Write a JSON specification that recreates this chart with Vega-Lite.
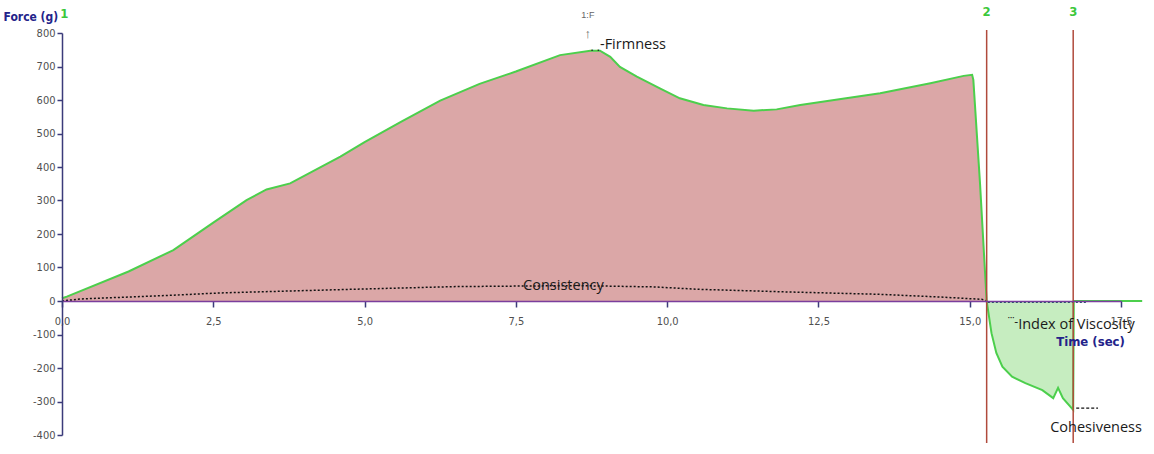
{
  "$schema": "https://vega.github.io/schema/vega-lite/v6.json",
  "width": 1059,
  "height": 402,
  "autosize": {"type": "none"},
  "padding": {"left": 62, "top": 33, "right": 33, "bottom": 19},
  "background": "white",
  "config": {"view": {"stroke": null}},
  "datasets": {
    "curve": [
      {"t": 0, "v": 8, "seg": "c"},
      {"t": 0.08, "v": 13, "seg": "c"},
      {"t": 1.1, "v": 88, "seg": "c"},
      {"t": 1.84, "v": 152, "seg": "c"},
      {"t": 2.5, "v": 234, "seg": "c"},
      {"t": 3.05, "v": 301, "seg": "c"},
      {"t": 3.38, "v": 333, "seg": "c"},
      {"t": 3.77, "v": 351, "seg": "c"},
      {"t": 4.6, "v": 431, "seg": "c"},
      {"t": 5.0, "v": 474, "seg": "c"},
      {"t": 5.6, "v": 535, "seg": "c"},
      {"t": 6.25, "v": 598, "seg": "c"},
      {"t": 6.9, "v": 648, "seg": "c"},
      {"t": 7.5, "v": 685, "seg": "c"},
      {"t": 8.23, "v": 734, "seg": "c"},
      {"t": 8.73, "v": 747, "seg": "c"},
      {"t": 8.89, "v": 747, "seg": "c"},
      {"t": 9.06, "v": 729, "seg": "c"},
      {"t": 9.22, "v": 699, "seg": "c"},
      {"t": 9.5, "v": 670, "seg": "c"},
      {"t": 9.88, "v": 635, "seg": "c"},
      {"t": 10.21, "v": 605, "seg": "c"},
      {"t": 10.6, "v": 585, "seg": "c"},
      {"t": 10.99, "v": 575, "seg": "c"},
      {"t": 11.43, "v": 568, "seg": "c"},
      {"t": 11.81, "v": 572, "seg": "c"},
      {"t": 12.2, "v": 585, "seg": "c"},
      {"t": 12.9, "v": 604, "seg": "c"},
      {"t": 13.52, "v": 620, "seg": "c"},
      {"t": 14.35, "v": 650, "seg": "c"},
      {"t": 14.9, "v": 672, "seg": "c"},
      {"t": 15.04, "v": 675, "seg": "c"},
      {"t": 15.06, "v": 660, "seg": "c"},
      {"t": 15.17, "v": 352, "seg": "c"},
      {"t": 15.28, "v": 0, "seg": "c"},
      {"t": 15.28, "v": 0, "seg": "t"},
      {"t": 15.36, "v": -96, "seg": "t"},
      {"t": 15.44, "v": -155, "seg": "t"},
      {"t": 15.54, "v": -196, "seg": "t"},
      {"t": 15.7, "v": -226, "seg": "t"},
      {"t": 15.92, "v": -245, "seg": "t"},
      {"t": 16.2, "v": -266, "seg": "t"},
      {"t": 16.38, "v": -290, "seg": "t"},
      {"t": 16.46, "v": -259, "seg": "t"},
      {"t": 16.54, "v": -290, "seg": "t"},
      {"t": 16.71, "v": -325, "seg": "t"},
      {"t": 16.72, "v": 0, "seg": "t"},
      {"t": 17.85, "v": 0, "seg": "t"}
    ],
    "cons": [
      {"t": 0, "v": 0},
      {"t": 0.3, "v": 6},
      {"t": 1.8, "v": 17},
      {"t": 2.6, "v": 24},
      {"t": 4.6, "v": 34},
      {"t": 6.5, "v": 43},
      {"t": 8.5, "v": 46},
      {"t": 9.8, "v": 42},
      {"t": 10.5, "v": 35},
      {"t": 12.0, "v": 27},
      {"t": 13.5, "v": 20},
      {"t": 14.5, "v": 12},
      {"t": 15.2, "v": 5},
      {"t": 15.28, "v": 0}
    ],
    "visc": [
      {"t": 15.3, "v": -4},
      {"t": 16.95, "v": -4}
    ],
    "coh": [
      {"t": 16.76, "v": -320},
      {"t": 17.12, "v": -320}
    ],
    "vlines": [
      {"t": 15.28, "v": 809, "v2": -424},
      {"t": 16.71, "v": 809, "v2": -424}
    ],
    "marks": [
      {"t": 0.04, "v": 858, "label": "1"},
      {"t": 15.28, "v": 862, "label": "2"},
      {"t": 16.71, "v": 862, "label": "3"}
    ],
    "notes": [
      {"t": 8.89, "v": 764, "label": "-Firmness"},
      {"t": 7.62, "v": 45, "label": "Consistency"},
      {"t": 15.8, "v": -72, "label": "Index of Viscosity"},
      {"t": 16.33, "v": -379, "label": "Cohesiveness"}
    ],
    "pre": [
      {"t": 8.89, "v": 757, "label": ". ."},
      {"t": 15.8, "v": -62, "label": "˙˙˙-"}
    ],
    "tiny": [
      {"t": 8.69, "v": 853, "label": "1:F", "size": 9},
      {"t": 8.69, "v": 798, "label": "↑", "size": 13}
    ]
  },
  "encoding": {
    "x": {
      "field": "t",
      "type": "quantitative",
      "scale": {"domain": [0, 17.5], "nice": false, "zero": false},
      "axis": {
        "title": "Time (sec)",
        "zindex": 1,
        "values": [0, 2.5, 5, 7.5, 10, 12.5, 15, 17.5],
        "labelExpr": "replace(format(datum.value, '.1f'), '.', ',')",
        "offset": -134,
        "grid": false,
        "domainColor": "#7a3e9d",
        "domainWidth": 1.5,
        "tickColor": "#3b3b7a",
        "tickWidth": 1.5,
        "tickSize": 6,
        "labelPadding": 8,
        "labelFlush": false,
        "labelOverlap": false,
        "labelFont": "'DejaVu Sans Condensed', 'Liberation Sans', sans-serif",
        "labelFontSize": 11,
        "labelColor": "#505050",
        "titleFont": "'DejaVu Sans Condensed', 'Liberation Sans', sans-serif",
        "titleFontWeight": "bold",
        "titleFontSize": 13,
        "titleColor": "#23238a",
        "titleX": 1028,
        "titleY": 40,
        "titleAlign": "center",
        "titleBaseline": "middle"
      }
    },
    "y": {
      "field": "v",
      "type": "quantitative",
      "scale": {"domain": [-400, 800], "nice": false},
      "axis": {
        "title": "Force (g)",
        "zindex": 1,
        "values": [-400, -300, -200, -100, 0, 100, 200, 300, 400, 500, 600, 700, 800],
        "labelExpr": "datum.value < 0 ? '-' + abs(datum.value) : '' + datum.value",
        "grid": false,
        "domainColor": "#3b3b7a",
        "domainWidth": 1.5,
        "tickColor": "#3b3b7a",
        "tickWidth": 1.5,
        "tickSize": 5,
        "labelPadding": 2,
        "labelFont": "'DejaVu Sans Condensed', 'Liberation Sans', sans-serif",
        "labelFontSize": 11,
        "labelColor": "#505050",
        "titleFont": "'DejaVu Sans Condensed', 'Liberation Sans', sans-serif",
        "titleFontWeight": "bold",
        "titleFontSize": 12,
        "titleColor": "#23238a",
        "titleAngle": 0,
        "titleAlign": "left",
        "titleBaseline": "alphabetic",
        "titleX": -59,
        "titleY": -13
      }
    }
  },
  "layer": [
    {
      "data": {"name": "curve"},
      "mark": {"type": "area", "opacity": 1},
      "encoding": {
        "y": {"field": "v", "type": "quantitative", "stack": null},
        "color": {
          "field": "seg",
          "type": "nominal",
          "scale": {"domain": ["c", "t"], "range": ["#dba7a7", "#c6edc0"]},
          "legend": null
        }
      }
    },
    {
      "data": {"name": "cons"},
      "mark": {"type": "line", "color": "#111111", "strokeWidth": 1.5, "strokeDash": [2, 2]}
    },
    {
      "data": {"name": "visc"},
      "mark": {"type": "line", "color": "#1d4f66", "strokeWidth": 1.4, "strokeDash": [2, 2]}
    },
    {
      "data": {"name": "curve"},
      "mark": {"type": "line", "color": "#4ccf4c", "strokeWidth": 2}
    },
    {
      "data": {"name": "coh"},
      "mark": {"type": "line", "color": "#111111", "strokeWidth": 1.3, "strokeDash": [3, 2]}
    },
    {
      "data": {"name": "vlines"},
      "mark": {"type": "rule", "color": "#b04a3c", "strokeWidth": 1.5},
      "encoding": {"y2": {"field": "v2"}}
    },
    {
      "data": {"name": "marks"},
      "mark": {"type": "text", "color": "#3cc83c", "font": "'DejaVu Sans Condensed', 'Liberation Sans', sans-serif", "fontWeight": "bold", "fontSize": 13, "align": "center", "baseline": "middle"},
      "encoding": {"text": {"field": "label"}}
    },
    {
      "data": {"name": "notes"},
      "mark": {"type": "text", "color": "#1a1a1a", "font": "Open Sans", "fontSize": 14.5, "align": "left", "baseline": "middle"},
      "encoding": {"text": {"field": "label"}}
    },
    {
      "data": {"name": "pre"},
      "mark": {"type": "text", "color": "#1a1a1a", "font": "Open Sans", "fontSize": 12, "align": "right", "baseline": "middle"},
      "encoding": {"text": {"field": "label"}}
    },
    {
      "data": {"name": "tiny"},
      "mark": {"type": "text", "color": "#666666", "font": "Liberation Sans", "align": "center", "baseline": "middle"},
      "encoding": {"text": {"field": "label"}, "size": {"field": "size", "type": "quantitative", "scale": null}}
    }
  ]
}
